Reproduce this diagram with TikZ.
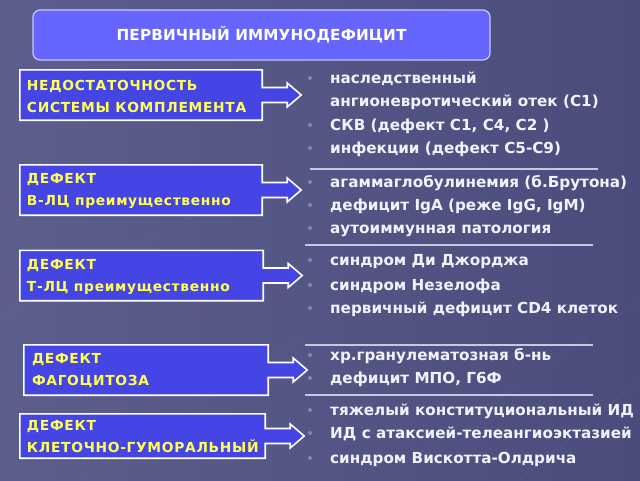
\documentclass[tikz,border=0pt]{standalone}
\usepackage{fontspec}
\setmainfont{DejaVu Sans}
\usetikzlibrary{calc}
\definecolor{bgA}{HTML}{5C5E8E}
\definecolor{bgB}{HTML}{4A4C7C}
\definecolor{titlefill}{HTML}{6666FF}
\definecolor{titleborder}{HTML}{C8C8FF}
\definecolor{boxfill}{HTML}{4545E5}
\definecolor{yel}{HTML}{FFFF55}
\definecolor{itemtxt}{HTML}{F2F2FF}
\definecolor{bulcol}{HTML}{8484C4}
\definecolor{sepcol}{HTML}{C8C8E0}
\tikzset{
  titlebox/.style={draw=titleborder, line width=1.2pt, fill=titlefill, rounded corners=7pt,
    minimum width=457pt, minimum height=50pt, inner sep=0pt, text=white,
    font=\bfseries\fontsize{15.2}{18}\selectfont\addfontfeature{LetterSpace=1}},
  lboxarea/.style={minimum height=50pt, inner sep=0pt},
  boxline/.style={draw=white, line width=1.6pt, fill=boxfill, line join=miter},
  ltext/.style={anchor=west, inner sep=0pt, align=left, text=yel,
    font=\bfseries\fontsize{13.8}{22}\selectfont\addfontfeature{LetterSpace=5}},
  item/.style={anchor=base west, inner sep=0pt, text=itemtxt,
    font=\bfseries\fontsize{15.2}{17}\selectfont},
  bul/.style={fill=bulcol},
  sep/.style={draw=sepcol, line width=1.2pt}
}
\newcommand{\boxarrow}[1]{%
  \draw[boxline] (#1.north west) -- (#1.north east) -- ($(#1.east)+(0,-7.5)$)
    -- ($(#1.east)+(25,-7.5)$) -- ($(#1.east)+(25,-12)$) -- ($(#1.east)+(39,0)$)
    -- ($(#1.east)+(25,12)$) -- ($(#1.east)+(25,7.5)$) -- ($(#1.east)+(0,7.5)$)
    -- (#1.south east) -- (#1.south west) -- cycle;}
\newcommand{\itm}[3]{%
  \fill[bul] (310,#2) circle (2pt);
  \node[item] (#1) at (330,#2+5) {#3};}
\begin{document}
\begin{tikzpicture}[x=1pt,y=-1pt]
\useasboundingbox (0,0) rectangle (640,480);
\shade[left color=bgA, right color=bgB] (0,0) rectangle (640,480);
\foreach \a/\b in {{(-20,330)/(260,180)},{(380,480)/(640,300)},{(520,480)/(640,380)},{(80,480)/(330,320)}}
  \draw[white, opacity=0.05, line width=0.6pt] \a -- \b;

\node[titlebox] (title) at (261.5,35) {ПЕРВИЧНЫЙ ИММУНОДЕФИЦИТ};

% left boxes
\node[lboxarea, minimum width=242pt] (b1) at (141,95) {};
\node[lboxarea, minimum width=242pt] (b2) at (141,190) {};
\node[lboxarea, minimum width=243pt] (b3) at (141.5,275.5) {};
\node[lboxarea, minimum width=244pt] (b4) at (146,370) {};
\node[lboxarea, minimum width=245pt, minimum height=44pt] (b5) at (142.5,436) {};
\boxarrow{b1}\boxarrow{b2}\boxarrow{b3}\boxarrow{b4}\boxarrow{b5}

\node[ltext] (t1) at ($(b1.west)+(7,1)$) {НЕДОСТАТОЧНОСТЬ\\СИСТЕМЫ КОМПЛЕМЕНТА};
\node[ltext] (t2) at ($(b2.west)+(7,1)$) {ДЕФЕКТ\\В-ЛЦ преимущественно};
\node[ltext] (t3) at ($(b3.west)+(7,1)$) {ДЕФЕКТ\\Т-ЛЦ преимущественно};
\node[ltext] (t4) at ($(b4.west)+(8,1)$) {ДЕФЕКТ\\ФАГОЦИТОЗА};
\node[ltext] (t5) at ($(b5.west)+(7,1)$) {ДЕФЕКТ\\КЛЕТОЧНО-ГУМОРАЛЬНЫЙ};

% separators
\coordinate (s1a) at (310,169); \coordinate (s1b) at (598,169);
\coordinate (s2a) at (305,245); \coordinate (s2b) at (593,245);
\coordinate (s3a) at (305,345); \coordinate (s3b) at (593,345);
\coordinate (s4a) at (305,395); \coordinate (s4b) at (593,395);
\draw[sep] (s1a) -- (s1b); \draw[sep] (s2a) -- (s2b);
\draw[sep] (s3a) -- (s3b); \draw[sep] (s4a) -- (s4b);

% items
\itm{i1}{78}{наследственный}
\node[item] (i1b) at (330,106) {ангионевротический отек (C1)};
\itm{i2}{125}{СКВ (дефект C1, C4, C2 )}
\itm{i3}{148}{инфекции (дефект C5-C9)}
\itm{i4}{182}{агаммаглобулинемия (б.Брутона)}
\itm{i5}{205}{дефицит IgA (реже IgG, IgM)}
\itm{i6}{228}{аутоиммунная патология}
\itm{i7}{260}{синдром Ди Джорджа}
\itm{i8}{285}{синдром Незелофа}
\itm{i9}{308}{первичный дефицит CD4 клеток}
\itm{i10}{355}{хр.гранулематозная б-нь}
\itm{i11}{378}{дефицит МПО, Г6Ф}
\itm{i12}{410}{тяжелый конституциональный ИД}
\itm{i13}{433}{ИД с атаксией-телеангиоэктазией}
\itm{i14}{458}{синдром Вискотта-Олдрича}
\end{tikzpicture}
\end{document}
